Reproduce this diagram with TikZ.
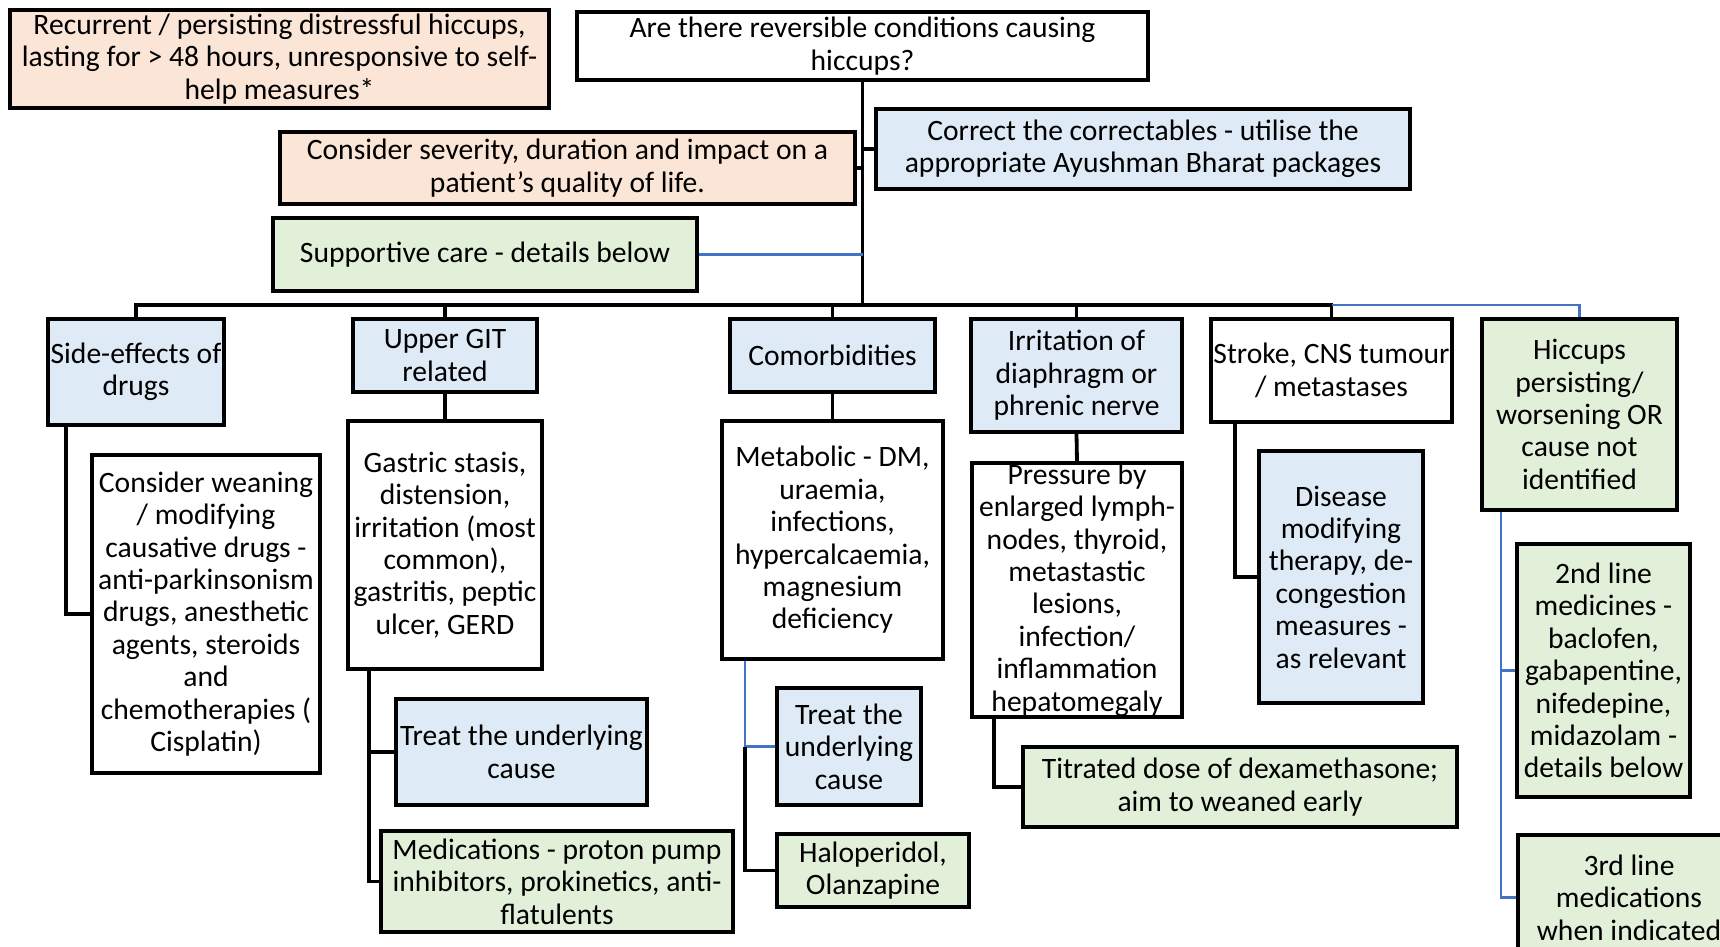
\documentclass[tikz,border=0pt]{standalone}
\usepackage{fontspec}
\setmainfont{Carlito}
\definecolor{peach}{HTML}{FBE5D6}
\definecolor{lblue}{HTML}{DEEBF7}
\definecolor{lgreen}{HTML}{E2F0D9}
\definecolor{lineblue}{HTML}{4472C4}
\tikzset{
  box/.style={draw=black, line width=1.9pt, inner sep=0pt, align=center,
    font=\fontsize{14.8}{16.2}\selectfont},
  pbox/.style={box, fill=peach},
  bbox/.style={box, fill=lblue},
  gbox/.style={box, fill=lgreen},
  wbox/.style={box, fill=white},
  conn/.style={draw=black, line width=1.9pt},
  bconn/.style={draw=lineblue, line width=1.1pt},
}
\newcommand\bx[7]{%
  \node[#6, minimum width={(#4-#2)*0.5pt}, minimum height={(#5-#3)*0.5pt}]
    (#1) at ({(#2+#4)/2},{(#3+#5)/2}) {#7};}
\begin{document}
\begin{tikzpicture}[x=0.5pt,y=-0.5pt]
\useasboundingbox (0,0) rectangle (1720,947);
\clip (0,0) rectangle (1720,947);
% top
\bx{A}{10}{10}{549}{108}{pbox}{Recurrent / persisting distressful hiccups,\\ lasting for > 48 hours, unresponsive to self-\\ help measures*}
\bx{B}{577}{12}{1148}{80}{wbox}{Are there reversible conditions causing\\ hiccups?}
\bx{C}{280}{132}{855}{204}{pbox}{Consider severity, duration and impact on a\\ patient’s quality of life.}
\bx{D}{876}{109}{1410}{189}{bbox}{Correct the correctables - utilise the\\ appropriate Ayushman Bharat packages}
\bx{E}{273}{218}{697}{291}{gbox}{Supportive care - details below}
% row 2
\bx{F}{48}{319}{224}{425}{bbox}{Side-effects of\\ drugs}
\bx{G}{353}{319}{537}{392}{bbox}{Upper GIT\\ related}
\bx{H}{730}{319}{935}{392}{bbox}{Comorbidities}
\bx{I}{971}{319}{1182}{432}{bbox}{Irritation of\\ diaphragm or\\ phrenic nerve}
\bx{J}{1211}{319}{1452}{422}{wbox}{Stroke, CNS tumour\\ / metastases}
\bx{K}{1482}{319}{1677}{510}{gbox}{Hiccups\\ persisting/\\ worsening OR\\ cause not\\ identified}
% row 3
\bx{F1}{92}{455}{320}{773}{wbox}{Consider weaning\\ / modifying\\ causative drugs -\\ anti-parkinsonism\\ drugs, anesthetic\\ agents, steroids\\ and\\ chemotherapies (\\ Cisplatin)}
\bx{G1}{348}{421}{542}{669}{wbox}{Gastric stasis,\\ distension,\\ irritation (most\\ common),\\ gastritis, peptic\\ ulcer, GERD}
\bx{G2}{396}{699}{647}{805}{bbox}{Treat the underlying\\ cause}
\bx{G3}{381}{831}{733}{932}{gbox}{Medications - proton pump\\ inhibitors, prokinetics, anti-\\ flatulents}
\bx{H1}{722}{421}{943}{659}{wbox}{Metabolic - DM,\\ uraemia,\\ infections,\\ hypercalcaemia,\\ magnesium\\ deficiency}
\bx{H2}{777}{688}{921}{805}{bbox}{Treat the\\ underlying\\ cause}
\bx{H3}{777}{834}{969}{907}{gbox}{Haloperidol,\\ Olanzapine}
\bx{I1}{972}{463}{1182}{717}{wbox}{Pressure by\\ enlarged lymph-\\ nodes, thyroid,\\ metastastic\\ lesions,\\ infection/\\ inflammation\\ hepatomegaly}
\bx{I2}{1023}{747}{1457}{827}{gbox}{Titrated dose of dexamethasone;\\ aim to weaned early}
\bx{J1}{1259}{451}{1423}{703}{bbox}{Disease\\ modifying\\ therapy, de-\\ congestion\\ measures -\\ as relevant}
\bx{K1}{1517}{544}{1690}{797}{gbox}{2nd line\\ medicines -\\ baclofen,\\ gabapentine,\\ nifedepine,\\ midazolam -\\ details below}
\bx{K2}{1518}{835}{1740}{960}{gbox}{3rd line\\ medications\\ when indicated}
% helper coordinates
\coordinate (bus) at (0,305);
\coordinate (fx) at (66,0);
\coordinate (gx) at (369,0);
\coordinate (hx) at (745,0);
\coordinate (ix) at (994,0);
\coordinate (jx) at (1235,0);
\coordinate (kx) at (1501,0);
% trunk
\draw[conn] (B.south) -- (B.south |- bus);
\draw[conn] (B.south |- D.west) -- (D.west);
\draw[conn] (C.east) -- (C.east -| B.south);
\draw[bconn] (E.east) -- (E.east -| B.south);
% bus
\draw[conn] (F.north) -- (F.north |- bus) -- (J.north |- bus) -- (J.north);
\draw[conn] (G.north) -- (G.north |- bus);
\draw[conn] (H.north) -- (H.north |- bus);
\draw[conn] (I.north) -- (I.north |- bus);
\draw[bconn] (J.north |- bus) -- (K.north |- bus) -- (K.north);
% branches
\draw[conn] (F.south -| fx) |- (F1.west);
\draw[conn] (G.south) -- (G1.north);
\draw[conn] (G1.south -| gx) |- (G2.west);
\draw[conn] (G1.south -| gx) |- (G3.west);
\draw[conn] (H.south) -- (H1.north);
\draw[bconn] (H1.south -| hx) |- (H2.west);
\draw[conn] (H2.west -| hx) |- (H3.west);
\draw[conn] (I.south) -- (I1.north);
\draw[conn] (I1.south -| ix) |- (I2.west);
\draw[conn] (J.south -| jx) |- (J1.west);
\draw[bconn] (K.south -| kx) |- (K1.west);
\draw[bconn] (K.south -| kx) |- (K2.west);
\end{tikzpicture}
\end{document}
